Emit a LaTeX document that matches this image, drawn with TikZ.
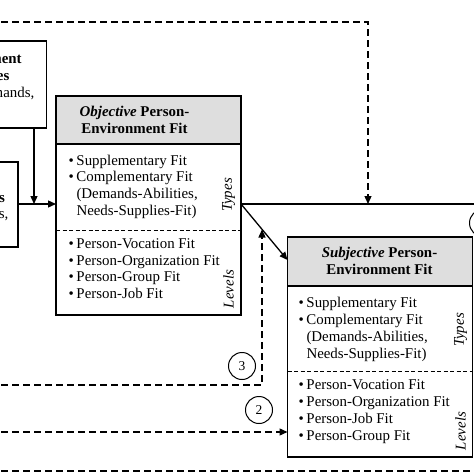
\documentclass[tikz,border=0pt]{standalone}
\usepackage{fontspec}
\setmainfont{Liberation Serif}
\usetikzlibrary{arrows.meta}
\newcommand\mybul{\makebox[8pt][l]{\textbullet}}
\begin{document}
\begin{tikzpicture}[x=1pt,y=-1pt,
 box/.style={draw, line width=1.3pt, inner sep=0, outer sep=0, anchor=north west},
 hdr/.style={draw, line width=1.3pt, fill=black!13, inner sep=0, outer sep=0, anchor=north west},
 txt/.style={font=\fontsize{14.9}{17}\selectfont, inner sep=0, outer sep=0, anchor=base west},
 txtb/.style={font=\fontsize{14.9}{17}\selectfont\bfseries, inner sep=0, outer sep=0, anchor=base east},
 htxt/.style={font=\fontsize{14.9}{17}\selectfont\bfseries, inner sep=0, outer sep=0, anchor=base},
 lab/.style={font=\fontsize{14.9}{17}\selectfont\itshape, inner sep=0, outer sep=0, rotate=90},
 divider/.style={line width=1pt, dash pattern=on 4pt off 2.5pt},
 conn/.style={line width=1.3pt},
 dconn/.style={line width=1.3pt, dash pattern=on 7pt off 4pt},
 tip/.style={-{Triangle[length=8pt,width=7pt]}},
 num/.style={draw, circle, line width=1pt, minimum size=27pt, inner sep=0, font=\fontsize{13.5}{15}\selectfont},
]
\useasboundingbox (0,0) rectangle (474,474);
\clip (0,0) rectangle (474,474);

% left boxes (cut off by the picture edge)
\node[box, minimum width=196.3pt, minimum height=87pt] (tl) at (-150,41) {};
\node[txtb] (tl1) at (21.7,63) {Environment};
\node[txtb] (tl2) at (9.3,80) {Resources};
\node[txt, anchor=base east] (tl3) at (34.3,97) {(Demands,};

\node[box, minimum width=168pt, minimum height=85pt] (bl) at (-150,162) {};
\node[txtb] (bl1) at (5,202) {Characteristics};
\node[txt, anchor=base east] (bl2) at (8.3,218) {(Abilities,};

% objective box
\node[box, minimum width=185pt, minimum height=219pt] (obj) at (56,96) {};
\node[hdr, minimum width=185pt, minimum height=48pt] (objh) at (56,96) {};
\draw[divider] (obj.west |- 0,230) -- (obj.east |- 0,230);
\node[htxt] (oh1) at (134.5,116.7) {\textit{Objective} Person-};
\node[htxt] (oh2) at (134.5,133.3) {Environment Fit};
\node[txt] (o1) at (68.5,165) {\mybul Supplementary Fit};
\node[txt] (o2) at (68.5,181.8) {\mybul Complementary Fit};
\node[txt] (o3) at (76.5,198.5) {(Demands-Abilities,};
\node[txt] (o4) at (76.5,215.5) {Needs-Supplies-Fit)};
\node[txt] (o5) at (68.5,248.3) {\mybul Person-Vocation Fit};
\node[txt] (o6) at (68.5,265) {\mybul Person-Organization Fit};
\node[txt] (o7) at (68.5,281.7) {\mybul Person-Group Fit};
\node[txt] (o8) at (68.5,298.6) {\mybul Person-Job Fit};
\node[lab] (ot) at (228.5,195) {Types};
\node[lab] (ol) at (228.5,289) {Levels};

% subjective box
\node[box, minimum width=185pt, minimum height=220pt] (sub) at (287.5,237) {};
\node[hdr, minimum width=185pt, minimum height=49pt] (subh) at (287.5,237) {};
\draw[divider] (sub.west |- 0,371.7) -- (sub.east |- 0,371.7);
\node[htxt] (sh1) at (379.5,257.7) {\textit{Subjective} Person-};
\node[htxt] (sh2) at (379.5,274.3) {Environment Fit};
\node[txt] (s1) at (298.5,307) {\mybul Supplementary Fit};
\node[txt] (s2) at (298.5,324) {\mybul Complementary Fit};
\node[txt] (s3) at (306.5,341) {(Demands-Abilities,};
\node[txt] (s4) at (306.5,358) {Needs-Supplies-Fit)};
\node[txt] (s5) at (298.5,389) {\mybul Person-Vocation Fit};
\node[txt] (s6) at (298.5,406) {\mybul Person-Organization Fit};
\node[txt] (s7) at (298.5,423) {\mybul Person-Job Fit};
\node[txt] (s8) at (298.5,440) {\mybul Person-Group Fit};
\node[lab] (st) at (460.5,330) {Types};
\node[lab] (sl) at (460.5,431) {Levels};

% solid connectors
\coordinate (j) at (34,204);
\draw[conn,tip] (j |- tl.south) -- (j);
\draw[conn,tip] (bl.east |- j) -- (obj.west |- j);
\coordinate (k) at (obj.east |- j);
\coordinate (far) at (490,204);
\draw[conn] (k) -- (far);
\coordinate (d) at (sub.west |- 0,260);
\draw[conn,tip] (k) -- (d);

% dashed connectors
\coordinate (t0) at (-10,22);
\coordinate (t1) at (368,204);
\draw[dconn,tip] (t0) -| (t1);
\coordinate (s0) at (-10,385);
\coordinate (u) at (262,229.5);
\draw[dconn,tip] (s0) -| (u);
\coordinate (q0) at (-10,432);
\draw[dconn,tip] (q0) -- (q0 -| sub.west);
\coordinate (b0) at (-10,471);
\coordinate (b1) at (490,471);
\draw[dconn] (b0) -- (b1);

% numbered circles
\node[num] (n1) at (483,223) {};
\node[num] (n3) at (242,366) {3};
\node[num] (n2) at (259,410) {2};
\end{tikzpicture}
\end{document}
